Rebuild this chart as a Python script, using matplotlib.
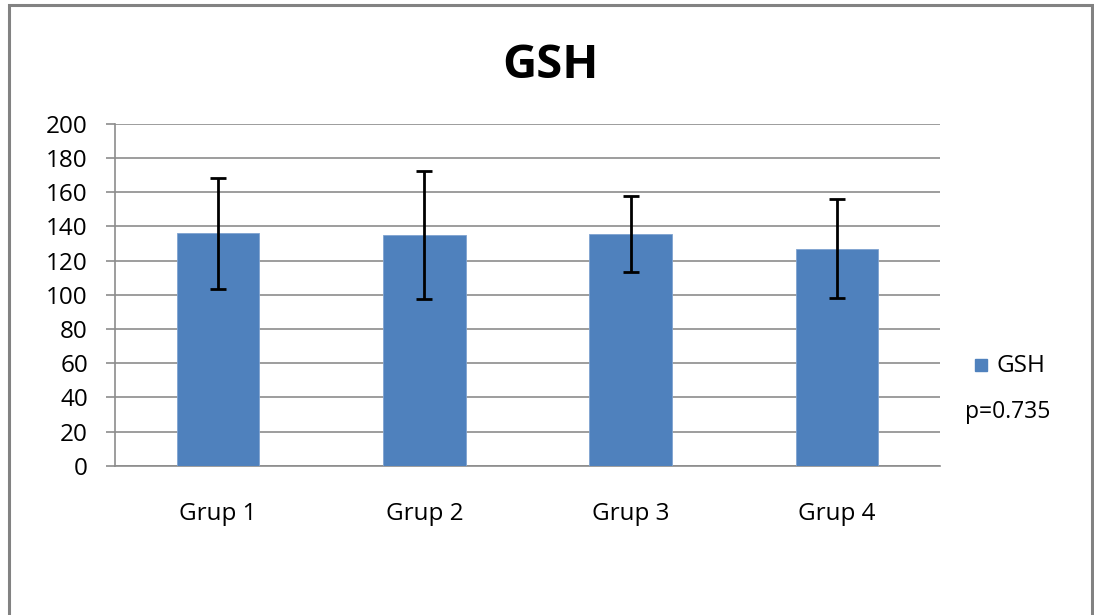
import matplotlib
matplotlib.use("Agg")
import matplotlib.pyplot as plt
from matplotlib.patches import Rectangle

plt.rcParams["font.family"] = ["Open Sans", "DejaVu Sans"]

groups = ["Grup 1", "Grup 2", "Grup 3", "Grup 4"]
means = [136, 135, 135.7, 127]
errors = [32.5, 37.5, 22.4, 29]
series_name = "GSH"
p_text = "p=0.735"

BLUE = "#4F81BD"
GRID = "#8C8C8C"

fig = plt.figure(figsize=(10.94, 6.15), dpi=100)
ax = fig.add_axes([0.1051, 0.2428, 0.7541, 0.5556])

x = range(len(groups))
ax.bar(x, means, width=0.4, color=BLUE, edgecolor="#7FA3D0", linewidth=0.6,
       zorder=3, label=series_name)
ax.errorbar(x, means, yerr=errors, fmt="none", ecolor="black", elinewidth=2,
            capsize=6, capthick=2, zorder=4)

ax.set_xlim(-0.5, len(groups) - 0.5)
ax.set_ylim(0, 200)
ax.set_yticks(range(0, 201, 20))
ax.set_xticks(list(x))
ax.set_xticklabels(groups)
ax.tick_params(axis="y", length=6.5, width=1.2, color=GRID, labelsize=17.5,
               pad=13)
ax.tick_params(axis="x", length=0, labelsize=17.5, pad=26)
ax.yaxis.grid(True, color=GRID, linewidth=1.2, zorder=0)
ax.set_axisbelow(True)
for side in ["top", "right"]:
    ax.spines[side].set_visible(False)
ax.spines["left"].set_color(GRID)
ax.spines["left"].set_linewidth(1.2)
ax.spines["bottom"].set_color(GRID)
ax.spines["bottom"].set_linewidth(1.2)

fig.text(0.503, 0.893, "GSH", ha="center", va="center", fontsize=34,
         fontweight="bold")

# legend and p-value
fig.patches.append(Rectangle((975 / 1094, 1 - 371 / 615), 12 / 1094, 12 / 615,
                             transform=fig.transFigure, color=BLUE))
fig.text(996 / 1094, 1 - 366 / 615, series_name, ha="left", va="center",
         fontsize=17.5)
fig.text(1008 / 1094, 1 - 412 / 615, p_text, ha="center", va="center",
         fontsize=16.5)

# outer frame
fig.patches.append(Rectangle((8.5 / 1094, -0.05), (1092 - 8.5) / 1094,
                             1.05 - 5 / 615, transform=fig.transFigure,
                             fill=False, edgecolor="#828282", linewidth=2.2))

fig.savefig("out.png", dpi=100, facecolor="white")
